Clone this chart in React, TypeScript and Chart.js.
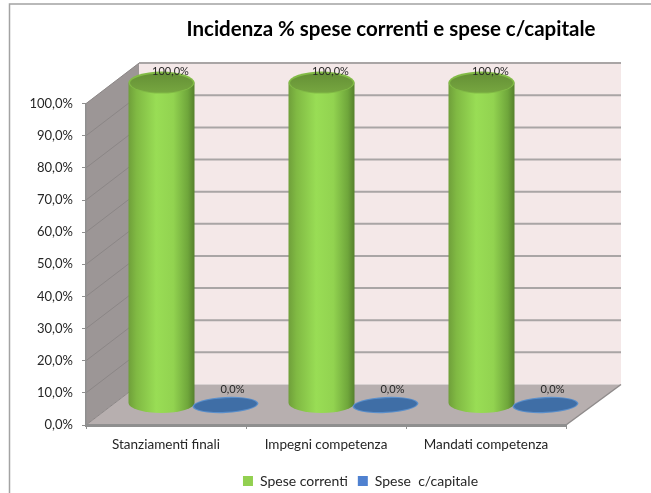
import React, { useEffect, useRef } from "react";
import { Chart, registerables } from "chart.js";

Chart.register(...registerables);

const categories = ["Stanziamenti finali", "Impegni competenza", "Mandati competenza"];
const speseCorrenti = [100, 100, 100];
const speseCapitale = [0, 0, 0];
const seriesNames = ["Spese correnti", "Spese  c/capitale"];
const titleText = "Incidenza % spese correnti e spese c/capitale";

const FONT = "Lato, Carlito, Calibri, sans-serif";
const WALL_DX = 55;
const WALL_DY = -40.5;
const BAR_DX = 27.5;
const BAR_DY = -21;

const fmt = (v: number) => v.toFixed(1).replace(".", ",") + "%";

const scene3d = {
  id: "scene3d",
  afterLayout(chart: any) {
    const shift = (b: any, dx: number, dy: number) => {
      if (b) {
        b.left += dx;
        b.right += dx;
        b.top += dy;
        b.bottom += dy;
      }
    };
    shift(chart.titleBlock, 108, 0);
    shift(chart.legend, 77.5, 5);
  },
  beforeDraw(chart: any) {
    const { ctx, chartArea: a, scales } = chart;
    const y = scales.y;
    ctx.save();
    // frame
    ctx.strokeStyle = "#a3a3a3";
    ctx.lineWidth = 1.5;
    ctx.beginPath();
    ctx.moveTo(9.5, 493);
    ctx.lineTo(9.5, 4);
    ctx.lineTo(651, 4);
    ctx.stroke();
    const L = a.left, R = a.right, B = a.bottom, T = a.top;
    const bl = L + 53, br = R + WALL_DX, bt = T + WALL_DY, bb = B + WALL_DY;
    const poly = (pts: number[][], fill: string) => {
      ctx.fillStyle = fill;
      ctx.beginPath();
      pts.forEach((p, i) => (i ? ctx.lineTo(p[0], p[1]) : ctx.moveTo(p[0], p[1])));
      ctx.closePath();
      ctx.fill();
    };
    poly([[bl, bt], [br, bt], [br, bb], [bl, bb]], "#f4e8e8");
    poly([[L, T], [bl, bt], [bl, bb], [L, B]], "#9c9696");
    poly([[L, B], [bl, bb], [br, bb], [R, B]], "#b7afaf");
    // gridlines on the walls, from the value scale
    y.ticks.forEach((t: any) => {
      const py = y.getPixelForValue(t.value);
      if (t.value > 0) {
        ctx.strokeStyle = "#a9a5a5";
        ctx.lineWidth = 2;
        ctx.beginPath();
        ctx.moveTo(bl, py + WALL_DY);
        ctx.lineTo(br, py + WALL_DY);
        ctx.stroke();
      }
      ctx.strokeStyle = "#8b8686";
      ctx.lineWidth = 1;
      ctx.beginPath();
      ctx.moveTo(L, py);
      ctx.lineTo(bl, py + WALL_DY);
      ctx.stroke();
    });
    ctx.strokeStyle = "#8f8b8b";
    ctx.lineWidth = 1.5;
    ctx.beginPath();
    ctx.moveTo(R, B);
    ctx.lineTo(br, bb);
    ctx.stroke();
    ctx.restore();
  },
  beforeDatasetDraw() {
    return false;
  },
  afterDatasetsDraw(chart: any) {
    const { ctx } = chart;
    const zero = chart.scales.y.getPixelForValue(0);
    ctx.save();
    chart.data.datasets.forEach((ds: any, di: number) => {
      const meta = chart.getDatasetMeta(di);
      meta.data.forEach((el: any, i: number) => {
        const cx = el.x + BAR_DX;
        const rx = el.width / 2 + 1;
        const top = el.y + BAR_DY;
        const bottom = zero + BAR_DY - 1;
        const v = ds.data[i];
        if (v > 0) {
          const ry = 10;
          const g = ctx.createLinearGradient(cx - rx, 0, cx + rx, 0);
          g.addColorStop(0, "#6f9f3a");
          g.addColorStop(0.12, "#80b943");
          g.addColorStop(0.42, "#99dd55");
          g.addColorStop(0.68, "#92d350");
          g.addColorStop(0.9, "#6fa63b");
          g.addColorStop(1, "#55802c");
          ctx.fillStyle = g;
          ctx.beginPath();
          ctx.moveTo(cx - rx, top);
          ctx.lineTo(cx - rx, bottom);
          ctx.ellipse(cx, bottom, rx, ry, 0, Math.PI, 0, true);
          ctx.lineTo(cx + rx, top);
          ctx.closePath();
          ctx.fill();
          ctx.fillStyle = "#82bb46";
          ctx.beginPath();
          ctx.ellipse(cx, top, rx, ry + 1, 0, 0, Math.PI * 2);
          ctx.fill();
          const t = ctx.createLinearGradient(0, top - ry, 0, top + ry);
          t.addColorStop(0, "#648f35");
          t.addColorStop(1, "#76a640");
          ctx.fillStyle = t;
          ctx.beginPath();
          ctx.ellipse(cx, top + 0.5, rx - 1.5, ry - 0.5, 0, 0, Math.PI * 2);
          ctx.fill();
        } else {
          ctx.fillStyle = "#5a8fcb";
          ctx.beginPath();
          ctx.ellipse(cx, top + 1, rx, 8, -0.05, 0, Math.PI * 2);
          ctx.fill();
          ctx.fillStyle = "#3f6ea6";
          ctx.beginPath();
          ctx.ellipse(cx, top + 1, rx - 1.5, 6.8, -0.05, 0, Math.PI * 2);
          ctx.fill();
        }
        ctx.fillStyle = "#262626";
        ctx.font = "11px " + FONT;
        ctx.textAlign = "center";
        ctx.textBaseline = "middle";
        ctx.fillText(fmt(v), cx + (v > 0 ? 9 : 7), top - (v > 0 ? 11.5 : 15));
      });
    });
    ctx.restore();
  },
};

export default function App() {
  const ref = useRef<HTMLCanvasElement>(null);
  useEffect(() => {
    const chart = new Chart(ref.current as HTMLCanvasElement, {
      type: "bar",
      data: {
        labels: categories,
        datasets: [
          { label: seriesNames[0], data: speseCorrenti, backgroundColor: "#92d050", borderWidth: 0 },
          { label: seriesNames[1], data: speseCapitale, backgroundColor: "#4f81d0", borderWidth: 0 },
        ],
      },
      plugins: [scene3d as any],
      options: {
        animation: false,
        responsive: false,
        layout: { padding: { left: 0, right: 85, top: 0, bottom: 0 } },
        datasets: { bar: { barPercentage: 1, categoryPercentage: 0.8 } },
        plugins: {
          tooltip: { enabled: false },
          title: {
            display: true,
            text: titleText,
            color: "#000000",
            font: { family: FONT, size: 20.5, weight: "bold" },
            padding: { top: 17, bottom: 62 },
          },
          legend: {
            display: true,
            position: "bottom",
            labels: {
              color: "#262626",
              font: { family: FONT, size: 14 },
              boxWidth: 10,
              boxHeight: 10,
              padding: 10,
            },
          },
        },
        scales: {
          x: {
            grid: {
              display: true,
              drawOnChartArea: false,
              drawTicks: true,
              tickLength: 4,
              color: "#8f8f8f",
              offset: true,
            },
            border: { color: "#8f8f8f", width: 3 },
            ticks: { color: "#262626", font: { family: FONT, size: 13.5 }, maxRotation: 0, padding: 8 },
            afterFit: (s: any) => {
              s.height = 34;
            },
          },
          y: {
            min: 0,
            max: 100,
            grid: { display: true, drawOnChartArea: false, drawTicks: true, tickLength: 4, color: "#8f8f8f" },
            border: { color: "#8f8f8f", width: 1.5 },
            ticks: {
              stepSize: 10,
              color: "#262626",
              font: { family: FONT, size: 13 },
              padding: 9,
              callback: (v: any) => fmt(Number(v)),
            },
            afterFit: (s: any) => {
              s.width = 86;
            },
          },
        },
      } as any,
    });
    return () => chart.destroy();
  }, []);
  return (
    <div style={{ position: "absolute", left: 0, top: 0, width: 651, height: 493, background: "#ffffff" }}>
      <canvas ref={ref} width={651} height={493} style={{ display: "block" }} />
    </div>
  );
}
